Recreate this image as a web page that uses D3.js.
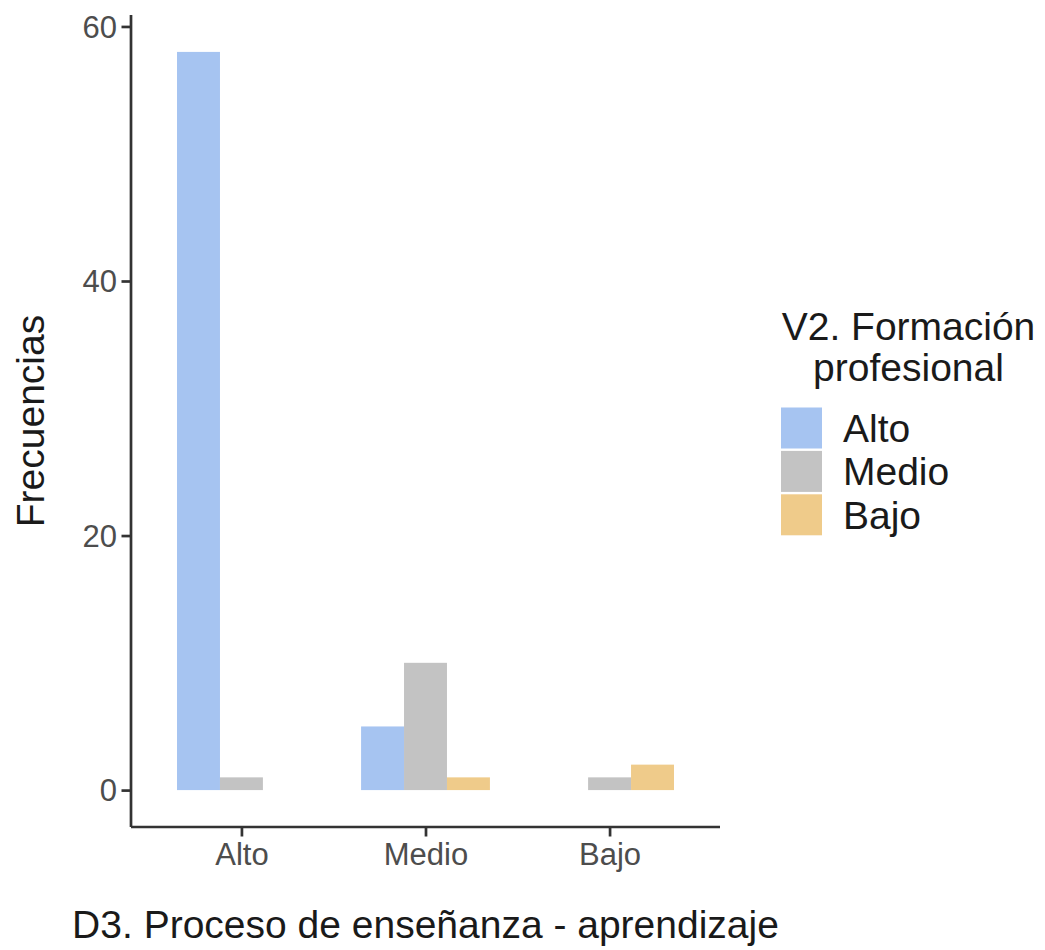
<!DOCTYPE html>
<html>
<head>
<meta charset="utf-8">
<script src="https://cdn.jsdelivr.net/npm/d3@7"></script>
<style>
  html, body { margin: 0; padding: 0; background: #fff; }
  svg { display: block; font-family: "Liberation Sans", Arial, sans-serif; }
</style>
</head>
<body>
<svg id="chart" width="1045" height="950"></svg>
<script>
// ---- data ----
const categories = ["Alto", "Medio", "Bajo"];          // D3. Proceso de enseñanza - aprendizaje
const seriesNames = ["Alto", "Medio", "Bajo"];         // V2. Formación profesional
const seriesAlto  = [58, 5, 0];
const seriesMedio = [1, 10, 1];
const seriesBajo  = [0, 1, 2];
const seriesColors = ["#a6c4f1", "#c3c3c3", "#efcb8a"];
const yTickValues = [0, 20, 40, 60];
const xTitle = "D3. Proceso de enseñanza - aprendizaje";
const yTitle = "Frecuencias";
const legendTitle = ["V2. Formación", "profesional"];

const seriesValues = [seriesAlto, seriesMedio, seriesBajo];
const rows = [];
categories.forEach((c, i) => {
  seriesNames.forEach((s, j) => {
    rows.push({ cat: c, series: s, si: j, value: seriesValues[j][i] });
  });
});

// ---- layout ----
const svg = d3.select("#chart");
const pLeft = 131, pRight = 720, pTop = 15, pBottom = 827;

const maxV = d3.max(rows, d => d.value);
const pad = maxV * 0.05;
const y = d3.scaleLinear().domain([0 - pad, maxV + pad]).range([pBottom, pTop]);
const x = d3.scalePoint().domain(categories).range([pLeft, pRight]).padding(0.6);
const groupW = x.step() * 0.7;
const xs = d3.scaleBand().domain(seriesNames).range([-groupW / 2, groupW / 2]).padding(0);
const color = d3.scaleOrdinal().domain(seriesNames).range(seriesColors);

// bars
svg.append("g").selectAll("rect")
  .data(rows.filter(d => d.value > 0))
  .join("rect")
  .attr("x", d => x(d.cat) + xs(d.series))
  .attr("width", xs.bandwidth())
  .attr("y", d => y(d.value))
  .attr("height", d => y(0) - y(d.value))
  .attr("fill", d => color(d.series));

// axes
const tickSize = 9.5;
const yAxis = svg.append("g")
  .attr("transform", `translate(${pLeft},0)`)
  .call(d3.axisLeft(y).tickValues(yTickValues).tickSize(tickSize).tickPadding(4.5).tickSizeOuter(0));
const xAxis = svg.append("g")
  .attr("transform", `translate(0,${pBottom})`)
  .call(d3.axisBottom(x).tickSize(tickSize).tickPadding(6).tickSizeOuter(0));

[yAxis, xAxis].forEach(g => {
  g.select(".domain").attr("stroke", "#333").attr("stroke-width", 2.7);
  g.selectAll(".tick line").attr("stroke", "#333").attr("stroke-width", 2.7);
  g.selectAll(".tick text").attr("fill", "#4d4d4d").style("font-size", "31px")
    .style("font-family", '"Liberation Sans", Arial, sans-serif');
});
yAxis.select(".domain").attr("d", `M0,${pBottom}V${pTop}`);
xAxis.select(".domain").attr("d", `M${pLeft},0H${pRight}`);
yAxis.selectAll(".tick text").attr("dy", "0.34em");
xAxis.selectAll(".tick text").attr("dy", "0.72em");

// axis titles
svg.append("text")
  .attr("x", (pLeft + pRight) / 2).attr("y", 938)
  .attr("text-anchor", "middle")
  .attr("fill", "#1a1a1a")
  .style("font-size", "39px")
  .text(xTitle);
svg.append("text")
  .attr("transform", `translate(44,${(pTop + pBottom) / 2}) rotate(-90)`)
  .attr("text-anchor", "middle")
  .attr("fill", "#1a1a1a")
  .style("font-size", "39px")
  .text(yTitle);

// legend
const lg = svg.append("g");
legendTitle.forEach((t, i) => {
  lg.append("text")
    .attr("x", 908.5).attr("y", 340 + i * 41)
    .attr("text-anchor", "middle")
    .attr("fill", "#1a1a1a")
    .style("font-size", "39px")
    .text(t);
});
const keySize = 41, keyStep = 43.4, keyX = 781, keyY0 = 407.5;
const items = lg.selectAll("g.item").data(seriesNames).join("g")
  .attr("class", "item")
  .attr("transform", (d, i) => `translate(${keyX},${keyY0 + i * keyStep})`);
items.append("rect")
  .attr("width", keySize).attr("height", keySize)
  .attr("fill", d => color(d));
items.append("text")
  .attr("x", 62).attr("y", keySize / 2 + 14)
  .attr("fill", "#1a1a1a")
  .style("font-size", "39px")
  .text(d => d);
</script>
</body>
</html>
